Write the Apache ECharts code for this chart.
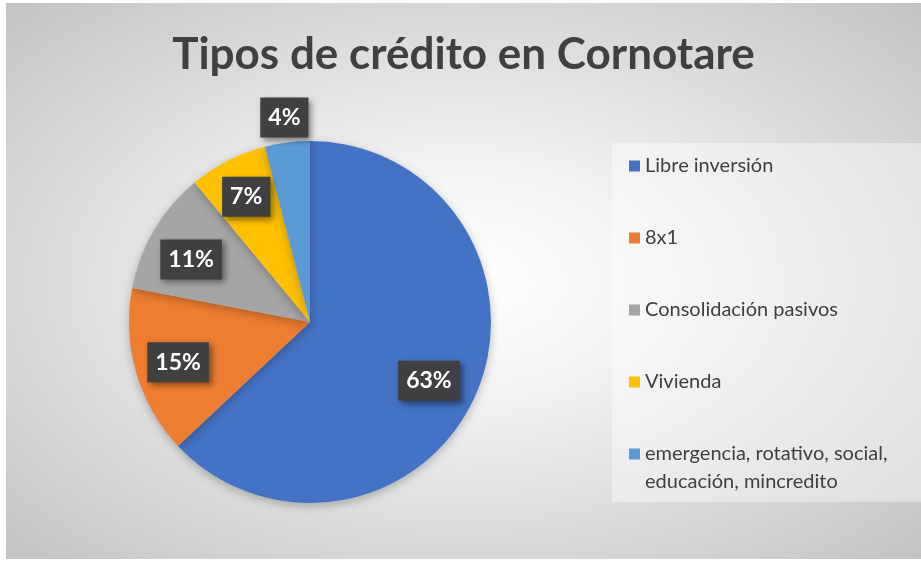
<!DOCTYPE html>
<html>
<head>
<meta charset="utf-8">
<script src="https://cdn.jsdelivr.net/npm/echarts@6/dist/echarts.min.js"></script>
<style>
  body { margin: 0; background: #fff; }
  #chart {
    position: absolute;
    left: 6px;
    top: 3px;
    width: 915px;
    height: 556px;
    background: radial-gradient(ellipse at 50% 50%, #ffffff 0%, #f2f2f2 30%, #c3c3c3 100%);
  }
</style>
</head>
<body>
<div id="chart"></div>
<script>
// datos del gráfico
const titleText = "Tipos de crédito en Cornotare";
const categories = [
  "Libre inversión",
  "8x1",
  "Consolidación pasivos",
  "Vivienda",
  "emergencia, rotativo, social, educación, mincredito",
];
const values = [63, 15, 11, 7, 4];
const colors = ["#4472C4", "#ED7D31", "#A5A5A5", "#FFC000", "#5B9BD5"];

const FONT = "Lato";
const R = 181;
const center = [304, 319];

// ajustes de etiqueta (como en el original, la de 4% queda fuera del círculo)
const labelShift = { 0: [-10, 3], 1: [3, 1], 2: [2, 9], 4: [-8, -65] };

let chart = echarts.init(document.getElementById("chart"));

let pieData = categories.map((name, i) => ({
  name: name,
  value: values[i],
  itemStyle: { color: colors[i] },
}));

let labelData = categories.map((name, i) => ({
  name: name,
  value: values[i],
  label: labelShift[i] ? { offset: labelShift[i] } : {},
}));

let legendText = {
  color: "#404040",
  fontFamily: FONT,
  fontSize: 20,
  lineHeight: 22,
};

chart.setOption({
  animation: false,
  title: {
    text: titleText,
    left: "center",
    top: 25,
    textStyle: {
      color: "#404040",
      fontFamily: FONT,
      fontWeight: "bold",
      fontSize: 44,
    },
  },
  graphic: [
    {
      type: "rect",
      left: 606,
      top: 140,
      shape: { width: 309, height: 359 },
      style: { fill: "rgba(255,255,255,0.4)" },
      z: -1,
      silent: true,
    },
  ],
  legend: [
    {
      orient: "vertical",
      left: 618,
      top: 147,
      itemWidth: 11,
      itemHeight: 11,
      itemGap: 50,
      icon: "rect",
      data: categories.slice(0, 4),
      textStyle: legendText,
      selectedMode: false,
    },
    {
      // primera línea vacía para que el cuadro quede junto a la primera línea
      orient: "vertical",
      left: 618,
      top: 404,
      itemWidth: 11,
      itemHeight: 11,
      icon: "rect",
      data: categories.slice(4),
      formatter: (name) => " \n" + name.replace("social, ", "social,\n"),
      textStyle: Object.assign({}, legendText, { lineHeight: 28 }),
      selectedMode: false,
    },
  ],
  series: [
    {
      type: "pie",
      center: center,
      radius: R,
      startAngle: 90,
      clockwise: true,
      label: { show: false },
      labelLine: { show: false },
      itemStyle: {
        shadowBlur: 10,
        shadowColor: "rgba(0,0,0,0.25)",
        shadowOffsetY: 3,
      },
      emphasis: { disabled: true },
      data: pieData,
    },
    {
      // capa sólo para colocar las etiquetas a ~3/4 del radio
      type: "pie",
      center: center,
      radius: [94, R],
      startAngle: 90,
      clockwise: true,
      silent: true,
      legendHoverLink: false,
      itemStyle: { color: "transparent" },
      labelLine: { show: false },
      label: {
        show: true,
        position: "inside",
        formatter: "{c}%",
        color: "#ffffff",
        fontFamily: FONT,
        fontWeight: "bold",
        fontSize: 23,
        backgroundColor: "#404040",
        padding: [9, 8, 8, 8],
        shadowColor: "rgba(0,0,0,0.45)",
        shadowBlur: 6,
        shadowOffsetX: 3,
        shadowOffsetY: 3,
      },
      emphasis: { disabled: true },
      data: labelData,
    },
  ],
});
</script>
</body>
</html>
